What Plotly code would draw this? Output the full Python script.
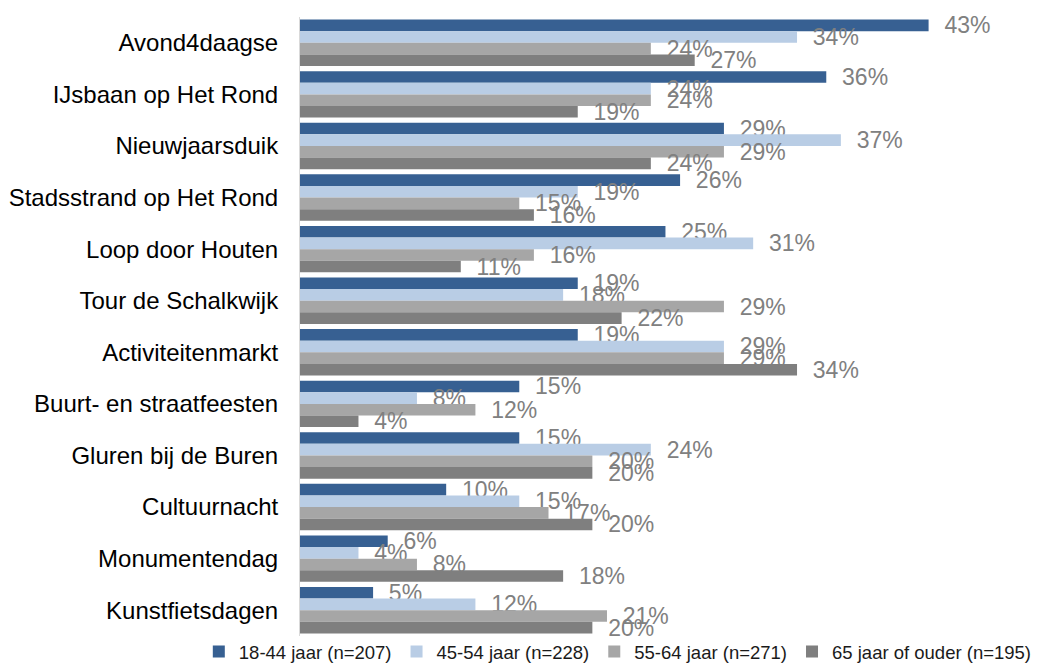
import plotly.graph_objects as go

categories = ["Avond4daagse", "IJsbaan op Het Rond", "Nieuwjaarsduik", "Stadsstrand op Het Rond",
              "Loop door Houten", "Tour de Schalkwijk", "Activiteitenmarkt", "Buurt- en straatfeesten",
              "Gluren bij de Buren", "Cultuurnacht", "Monumentendag", "Kunstfietsdagen"]

series_names = ["18-44 jaar (n=207)", "45-54 jaar (n=228)", "55-64 jaar (n=271)", "65 jaar of ouder (n=195)"]
v_18_44 = [43, 36, 29, 26, 25, 19, 19, 15, 15, 10, 6, 5]
v_45_54 = [34, 24, 37, 19, 31, 18, 29, 8, 24, 15, 4, 12]
v_55_64 = [24, 24, 29, 15, 16, 29, 29, 12, 20, 17, 8, 21]
v_65plus = [27, 19, 24, 16, 11, 22, 34, 4, 20, 20, 18, 20]
colors = ["#376092", "#B9CDE5", "#A6A6A6", "#7F7F7F"]

fig = go.Figure()
for name, vals, col in zip(series_names, [v_18_44, v_45_54, v_55_64, v_65plus], colors):
    fig.add_trace(go.Bar(
        y=categories, x=vals, name=name, orientation="h",
        marker=dict(color=col, line=dict(width=0)),
        text=["\u00a0\u00a0" + f"{v}%" for v in vals],
        textposition="outside", constraintext="none", cliponaxis=False,
        textfont=dict(family="Liberation Sans, Arial", size=23, color="#808080"),
    ))

fig.update_layout(
    width=1043, height=664,
    margin=dict(l=292, r=23, t=9, b=36, autoexpand=False),
    barmode="group", bargap=0.1, bargroupgap=0,
    plot_bgcolor="white", paper_bgcolor="white",
    showlegend=True,
    legend=dict(orientation="h", x=-0.139, xanchor="left", y=-0.026, yanchor="middle",
                font=dict(family="Liberation Sans, Arial", size=18.5, color="#1a1a1a"),
                itemwidth=30, tracegroupgap=0, bgcolor="rgba(0,0,0,0)"),
    xaxis=dict(range=[0, 49.8], showgrid=False, zeroline=False, showticklabels=False, showline=False,
               fixedrange=True, automargin=False),
    yaxis=dict(autorange="reversed", showgrid=False, zeroline=False, showline=True, linecolor="#D9D9D9",
               linewidth=1, ticks="", ticklabelstandoff=16, automargin=False,
               tickfont=dict(family="Liberation Sans, Arial", size=24, color="#000000")),
)

fig.write_html("out.html")
